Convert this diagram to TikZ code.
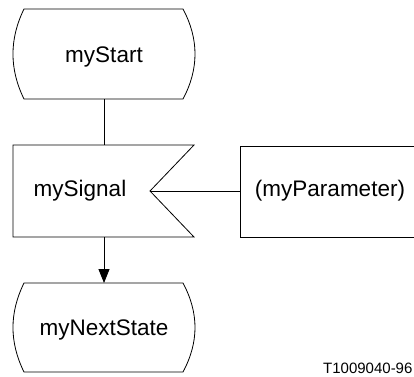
\documentclass[tikz,border=0pt]{standalone}
\usepackage{fontspec}
\setmainfont{Liberation Sans}
\usetikzlibrary{arrows.meta}
\begin{document}
\begin{tikzpicture}[x=1pt,y=-1pt,
  shapeline/.style={draw=black,line width=0.8pt},
  conn/.style={draw=black,line width=0.8pt},
  lbl/.style={anchor=base,inner sep=0pt,font=\fontsize{22.5}{27}\selectfont},
  tag/.style={anchor=base west,inner sep=0pt,font=\fontsize{15}{18}\selectfont}]
\useasboundingbox (0,0) rectangle (414,376);
% myStart state
\path[shapeline] (24,9) -- (183,9) .. controls (199,39) and (199,69) .. (183,99)
  -- (24,99) .. controls (9.3,69) and (9.3,39) .. (24,9) -- cycle;
\node[lbl] (start) at (104,62) {myStart};
\coordinate (startB) at (104,99);
% mySignal
\path[shapeline] (13,145) -- (194,145) -- (150,191) -- (194,237) -- (13,237) -- cycle;
\node[lbl] (signal) at (80,196) {mySignal};
\coordinate (sigT) at (104,145);
\coordinate (sigB) at (104,237);
\coordinate (sigN) at (150,191);
% parameter
\path[shapeline] (240,146) rectangle (418,237);
\node[lbl] (param) at (330,196) {(myParameter)};
\coordinate (parL) at (240,191);
% myNextState
\path[shapeline] (24,283) -- (183,283) .. controls (199,313) and (199,342) .. (183,372)
  -- (24,372) .. controls (9.3,342) and (9.3,313) .. (24,283) -- cycle;
\node[lbl] (next) at (104,335) {myNextState};
\coordinate (nextT) at (104,283);
% connectors
\draw[conn] (startB) -- (sigT);
\draw[conn] (sigN) -- (parL);
\draw[conn,-{Triangle[length=14pt,width=11pt]}] (sigB) -- (nextT);
% tag
\node[tag] (code) at (323,373) {T1009040-96};
\end{tikzpicture}
\end{document}
